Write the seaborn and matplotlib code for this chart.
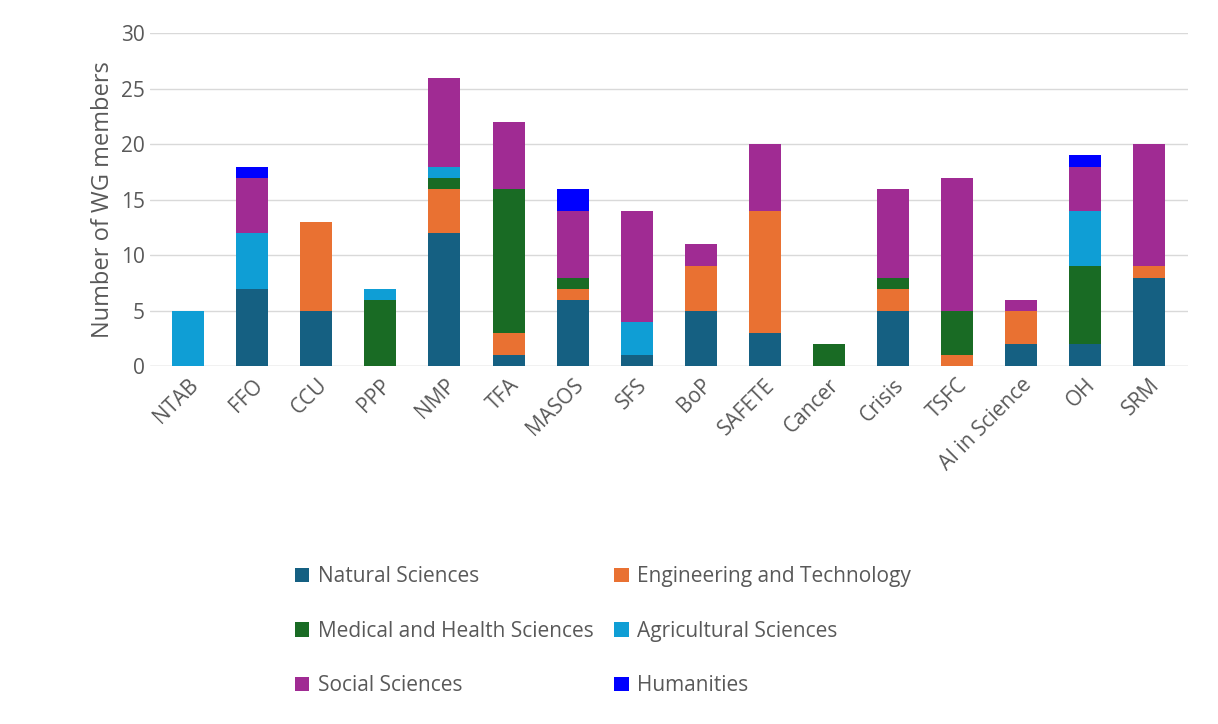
import matplotlib
matplotlib.use("Agg")
import matplotlib.pyplot as plt
import seaborn as sns
import numpy as np

sns.set_style("white")
plt.rcParams['font.family'] = ['Open Sans', 'DejaVu Sans']

groups = ["NTAB","FFO","CCU","PPP","NMP","TFA","MASOS","SFS","BoP","SAFETE","Cancer","Crisis","TSFC","AI in Science","OH","SRM"]
natural     = [0,7,5,0,12,1,6,1,5,3,0,5,0,2,2,8]
engineering = [0,0,8,0,4,2,1,0,4,11,0,2,1,3,0,1]
medical     = [0,0,0,6,1,13,1,0,0,0,2,1,4,0,7,0]
agricultural= [5,5,0,1,1,0,0,3,0,0,0,0,0,0,5,0]
social      = [0,5,0,0,8,6,6,10,2,6,0,8,12,1,4,11]
humanities  = [0,1,0,0,0,0,2,0,0,0,0,0,0,0,1,0]
series_names = ["Natural Sciences","Engineering and Technology","Medical and Health Sciences",
                "Agricultural Sciences","Social Sciences","Humanities"]
colors = ["#156082","#E97132","#196B24","#0F9ED5","#A02B93","#0000FF"]

fig = plt.figure(figsize=(12.18,7.24), dpi=100)
ax = fig.add_axes([0.123,0.494,0.852,0.46])
x = np.arange(len(groups))
bottom = np.zeros(len(groups))
handles = []
for name, vals, c in zip(series_names,[natural,engineering,medical,agricultural,social,humanities],colors):
    h = ax.bar(x, vals, 0.5, bottom=bottom, color=c, label=name, zorder=3, linewidth=0)
    handles.append(h)
    bottom += np.array(vals)

ax.set_ylim(0,30)
ax.set_xlim(-0.6,len(groups)-0.4)
ax.set_yticks(range(0,31,5))
ax.yaxis.grid(True,color="#d9d9d9",linewidth=1,zorder=0)
for s in ax.spines.values():
    s.set_visible(False)
ax.axhline(0,color="#d9d9d9",linewidth=1,zorder=1)
ax.set_xticks(x)
ax.set_xticklabels(groups, rotation=45, ha="right", rotation_mode="anchor", fontsize=15, color="#595959")
ax.tick_params(axis='y', labelsize=15, labelcolor="#595959", length=0)
ax.tick_params(axis='x', length=0, pad=6)
ax.set_ylabel("Number of WG members", fontsize=17, color="#595959")

order = [0,2,4,1,3,5]
fig.legend(handles=[handles[i] for i in order], labels=[series_names[i] for i in order], ncol=2,
           loc="center", bbox_to_anchor=(0.495,0.128),
           frameon=False, fontsize=15, labelcolor="#595959", handlelength=0.7, handleheight=0.7,
           columnspacing=1.0, labelspacing=1.6, handletextpad=0.4)
fig.savefig("out.png", dpi=100)
